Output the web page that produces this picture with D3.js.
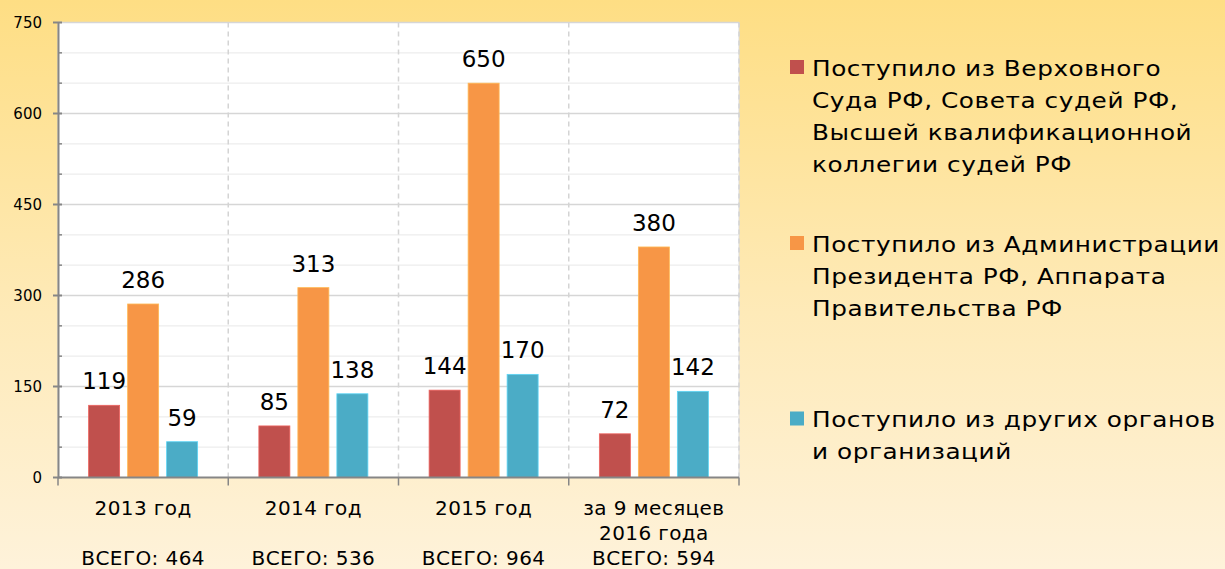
<!DOCTYPE html>
<html>
<head>
<meta charset="utf-8">
<script src="https://cdn.jsdelivr.net/npm/d3@7"></script>
<style>
  html, body { margin: 0; padding: 0; }
  body { width: 1225px; height: 569px; overflow: hidden; }
  text { font-family: "DejaVu Sans", Verdana, sans-serif; fill: #000; }
</style>
</head>
<body>
<svg id="chart" width="1225" height="569"></svg>
<script>
// Category labels (multi-line) and totals
const categories = [["2013 год"], ["2014 год"], ["2015 год"], ["за 9 месяцев", "2016 года"]];
const totals = ["ВСЕГО: 464", "ВСЕГО: 536", "ВСЕГО: 964", "ВСЕГО: 594"];

// Series values per category
const courts = [119, 85, 144, 72];
const administration = [286, 313, 650, 380];
const others = [59, 138, 170, 142];

const seriesNames = [
  ["Поступило из Верховного", "Суда РФ, Совета судей РФ,", "Высшей квалификационной", "коллегии судей РФ"],
  ["Поступило из Администрации", "Президента РФ, Аппарата", "Правительства РФ"],
  ["Поступило из других органов", "и организаций"]
];
const seriesColors = ["#C0504D", "#F79646", "#4BACC6"];

const yTicks = [0, 150, 300, 450, 600, 750];
const yMinorTicks = [50, 100, 200, 250, 350, 400, 500, 550, 650, 700];

const series = [courts, administration, others];

const svg = d3.select("#chart");
const W = 1225, H = 569;

// Background gradient
const defs = svg.append("defs");
const grad = defs.append("linearGradient").attr("id", "bg").attr("x1", 0).attr("y1", 0).attr("x2", 0).attr("y2", 1);
grad.append("stop").attr("offset", "0%").attr("stop-color", "#FEDE84");
grad.append("stop").attr("offset", "55%").attr("stop-color", "#FEEAB8");
grad.append("stop").attr("offset", "100%").attr("stop-color", "#FEF2DA");
svg.append("rect").attr("width", W).attr("height", H).attr("fill", "url(#bg)");

const plot = { left: 58, right: 739, top: 22.5, bottom: 477.5 };

const x = d3.scaleBand().domain(d3.range(categories.length)).range([plot.left, plot.right]).padding(0);
const y = d3.scaleLinear().domain([0, 750]).range([plot.bottom, plot.top]);

// Plot area
svg.append("rect")
  .attr("x", plot.left).attr("y", plot.top)
  .attr("width", plot.right - plot.left).attr("height", plot.bottom - plot.top)
  .attr("fill", "#fff").attr("stroke", "#d9d9d9").attr("stroke-width", 1);

// Minor and major horizontal grid lines
svg.append("g").selectAll("line").data(yMinorTicks).join("line")
  .attr("x1", plot.left).attr("x2", plot.right)
  .attr("y1", d => y(d)).attr("y2", d => y(d))
  .attr("stroke", "#ededed").attr("stroke-width", 1.2);
svg.append("g").selectAll("line").data(yTicks.filter(d => d > 0)).join("line")
  .attr("x1", plot.left).attr("x2", plot.right)
  .attr("y1", d => y(d)).attr("y2", d => y(d))
  .attr("stroke", "#d6d6d6").attr("stroke-width", 1.4);

// Dashed vertical separators between categories
svg.append("g").selectAll("line").data(d3.range(1, categories.length + 1)).join("line")
  .attr("x1", d => plot.left + d * x.step()).attr("x2", d => plot.left + d * x.step())
  .attr("y1", plot.top).attr("y2", plot.bottom)
  .attr("stroke", "#d4d4d4").attr("stroke-width", 1.5).attr("stroke-dasharray", "5,4");

// Bars
const inner = d3.scaleBand().domain(d3.range(3)).range([0, x.bandwidth()]).paddingInner(0.205).paddingOuter(0.785);
series.forEach((vals, si) => {
  svg.append("g").selectAll("rect").data(vals).join("rect")
    .attr("x", (d, i) => x(i) + inner(si))
    .attr("y", d => y(d))
    .attr("width", inner.bandwidth())
    .attr("height", d => y(0) - y(d))
    .attr("fill", seriesColors[si])
    .attr("stroke", d3.color(seriesColors[si]).brighter(0.6))
    .attr("stroke-width", 0.8);
  svg.append("g").selectAll("text").data(vals).join("text")
    .attr("x", (d, i) => x(i) + inner(si) + inner.bandwidth() / 2)
    .attr("y", d => y(d) - 16)
    .attr("text-anchor", "middle")
    .attr("font-size", 23)
    .text(d => d);
});

// Y axis
const yAxis = d3.axisLeft(y).tickValues(yTicks).tickSize(0).tickFormat("");
const gy = svg.append("g").attr("transform", `translate(${plot.left},0)`).call(yAxis);
gy.select(".domain").attr("stroke", "#868686").attr("stroke-width", 2);
svg.append("g").selectAll("line").data(yTicks).join("line")
  .attr("x1", plot.left - 5).attr("x2", plot.left + 4)
  .attr("y1", d => y(d)).attr("y2", d => y(d))
  .attr("stroke", "#868686").attr("stroke-width", 2);
svg.append("g").selectAll("line").data(yMinorTicks).join("line")
  .attr("x1", plot.left).attr("x2", plot.left + 4)
  .attr("y1", d => y(d)).attr("y2", d => y(d))
  .attr("stroke", "#868686").attr("stroke-width", 1.5);
svg.append("g").selectAll("text").data(yTicks).join("text")
  .attr("x", 42).attr("y", d => y(d)).attr("dy", "0.36em")
  .attr("text-anchor", "end").attr("font-size", 15)
  .text(d => d);

// X axis line with boundary ticks
svg.append("line").attr("x1", plot.left).attr("x2", plot.right)
  .attr("y1", plot.bottom).attr("y2", plot.bottom)
  .attr("stroke", "#868686").attr("stroke-width", 2);
svg.append("g").selectAll("line").data(d3.range(0, categories.length + 1)).join("line")
  .attr("x1", d => plot.left + d * x.step()).attr("x2", d => plot.left + d * x.step())
  .attr("y1", plot.bottom).attr("y2", plot.bottom + 8)
  .attr("stroke", "#868686").attr("stroke-width", 1.5);

// Category labels
categories.forEach((lines, i) => {
  const cx = x(i) + x.bandwidth() / 2;
  lines.forEach((ln, j) => {
    svg.append("text").attr("x", cx).attr("y", 515 + j * 25)
      .attr("text-anchor", "middle").attr("font-size", 20).attr("letter-spacing", 0.4).text(ln);
  });
  svg.append("text").attr("x", cx).attr("y", 565)
    .attr("text-anchor", "middle").attr("font-size", 20).attr("letter-spacing", 0.4).text(totals[i]);
});

// Legend (wide glyphs, horizontally stretched text)
const legendBaselines = [75.5, 251.5, 427];
const lineH = 32;
seriesNames.forEach((lines, si) => {
  const g = svg.append("g");
  g.append("rect").attr("x", 790).attr("y", legendBaselines[si] - 15.5).attr("width", 14).attr("height", 14)
    .attr("fill", seriesColors[si]);
  lines.forEach((ln, j) => {
    g.append("text")
      .attr("transform", `translate(812,${legendBaselines[si] + j * lineH}) scale(1.15,1)`)
      .attr("font-size", 21.5).attr("letter-spacing", 0.5).text(ln);
  });
});
</script>
</body>
</html>
